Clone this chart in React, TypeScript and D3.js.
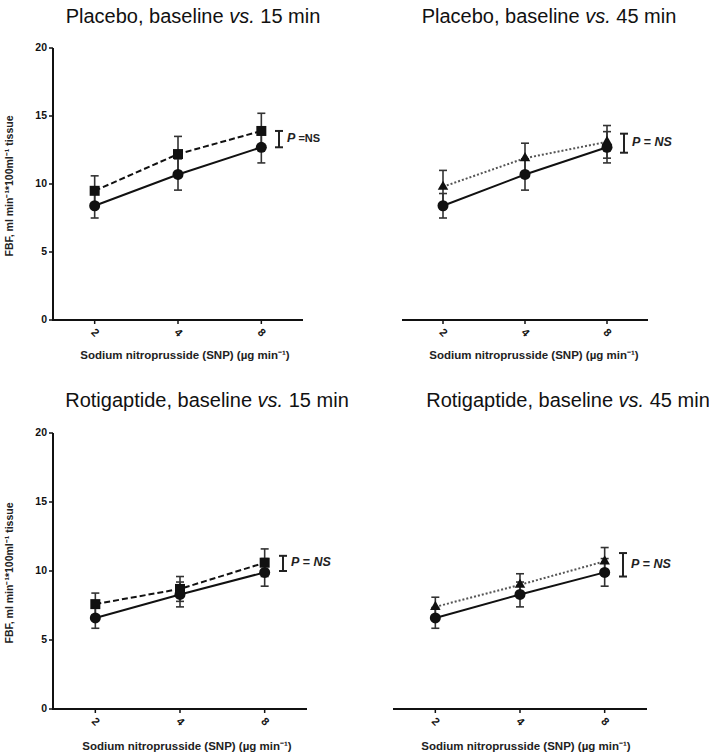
import React from "react";
import * as d3 from "d3";

const doses = ["2", "4", "8"];
const yTicks = [0, 5, 10, 15, 20];

const placeboBaseline = [8.4, 10.7, 12.7];
const placeboBaselineErr = [0.9, 1.15, 1.15];
const placebo15 = [9.5, 12.2, 13.9];
const placebo15Err = [1.1, 1.3, 1.3];
const placebo45 = [9.8, 11.9, 13.1];
const placebo45Err = [1.2, 1.1, 1.2];

const rotiBaseline = [6.6, 8.3, 9.9];
const rotiBaselineErr = [0.75, 0.9, 1.0];
const roti15 = [7.6, 8.7, 10.6];
const roti15Err = [0.8, 0.9, 1.0];
const roti45 = [7.4, 9.0, 10.7];
const roti45Err = [0.7, 0.8, 1.0];

const titles = [
  "Placebo, baseline ",
  "Placebo, baseline ",
  "Rotigaptide, baseline ",
  "Rotigaptide, baseline ",
];
const titleTimes = ["15 min", "45 min", "15 min", "45 min"];
const pBrackets = [
  [12.7, 13.9],
  [12.3, 13.7],
  [10.0, 11.1],
  [9.6, 11.3],
];
const xTitle = "Sodium nitroprusside (SNP) (µg min⁻¹)";

type PanelCfg = {
  x0: number; x1: number; yBottom: number; yTop: number;
  showY: boolean; titleX: number; titleY: number; xTitleX: number; xTitleY: number;
  base: number[]; baseErr: number[]; cmp: number[]; cmpErr: number[];
  marker: "square" | "triangle"; idx: number; pItalicNS: boolean;
};

const panels: PanelCfg[] = [
  { x0: 53, x1: 303, yBottom: 320, yTop: 48, showY: true, titleX: 193, titleY: 23, xTitleX: 185, xTitleY: 359,
    base: placeboBaseline, baseErr: placeboBaselineErr, cmp: placebo15, cmpErr: placebo15Err, marker: "square", idx: 0, pItalicNS: false },
  { x0: 402, x1: 648, yBottom: 320, yTop: 48, showY: false, titleX: 549, titleY: 23, xTitleX: 534, xTitleY: 359,
    base: placeboBaseline, baseErr: placeboBaselineErr, cmp: placebo45, cmpErr: placebo45Err, marker: "triangle", idx: 1, pItalicNS: true },
  { x0: 53, x1: 307, yBottom: 709, yTop: 433, showY: true, titleX: 207, titleY: 407, xTitleX: 187, xTitleY: 750,
    base: rotiBaseline, baseErr: rotiBaselineErr, cmp: roti15, cmpErr: roti15Err, marker: "square", idx: 2, pItalicNS: true },
  { x0: 393, x1: 647, yBottom: 709, yTop: 433, showY: false, titleX: 568, titleY: 407, xTitleX: 526, xTitleY: 750,
    base: rotiBaseline, baseErr: rotiBaselineErr, cmp: roti45, cmpErr: roti45Err, marker: "triangle", idx: 3, pItalicNS: true },
];

const FONT = "Liberation Sans, Arial, Helvetica, sans-serif";

function Panel({ c }: { c: PanelCfg }) {
  const x = d3.scalePoint<string>().domain(doses).range([c.x0, c.x1]).padding(0.5);
  const y = d3.scaleLinear().domain([0, 20]).range([c.yBottom, c.yTop]);
  const line = d3.line<number>().x((_, i) => x(doses[i])!).y((v) => y(v));
  const tri = d3.symbol().type(d3.symbolTriangle).size(48)();
  const cap = 4;
  const errBars = (vals: number[], errs: number[], key: string) =>
    vals.map((v, i) => {
      const cx = x(doses[i])!;
      const hi = y(v + errs[i]);
      const lo = y(v - errs[i]);
      return (
        <g key={key + i} stroke="#333" strokeWidth={1.6}>
          <line x1={cx} x2={cx} y1={hi} y2={lo} />
          <line x1={cx - cap} x2={cx + cap} y1={hi} y2={hi} />
          <line x1={cx - cap} x2={cx + cap} y1={lo} y2={lo} />
        </g>
      );
    });
  const bx = c.x1 - 24;
  const [bLo, bHi] = pBrackets[c.idx];
  const yMid = (y(bLo) + y(bHi)) / 2;
  return (
    <g>
      <text x={c.titleX} y={c.titleY} textAnchor="middle" fontFamily={FONT} fontSize={20} fill="#111">
        {titles[c.idx]}
        <tspan fontStyle="italic">vs.</tspan> {titleTimes[c.idx]}
      </text>
      {/* axes */}
      <line x1={c.x0} x2={c.x1} y1={c.yBottom} y2={c.yBottom} stroke="#111" strokeWidth={2} />
      {doses.map((d) => (
        <g key={d} transform={`translate(${x(d)},${c.yBottom})`}>
          <line y1={0} y2={4} stroke="#111" strokeWidth={1.5} />
          <text transform="translate(0,13) rotate(45)" textAnchor="middle" dominantBaseline="middle"
            fontFamily={FONT} fontSize={11} fontWeight="bold" fill="#111">{d}</text>
        </g>
      ))}
      <text x={c.xTitleX} y={c.xTitleY} textAnchor="middle" fontFamily={FONT} fontSize={11.5} fontWeight="bold" fill="#222">
        {xTitle}
      </text>
      {c.showY && (
        <g>
          <line x1={c.x0} x2={c.x0} y1={c.yBottom + 1} y2={c.yTop} stroke="#111" strokeWidth={2} />
          {yTicks.map((t) => (
            <g key={t} transform={`translate(${c.x0},${y(t)})`}>
              <line x1={-4} x2={0} stroke="#111" strokeWidth={1.5} />
              <text x={-6} textAnchor="end" dominantBaseline="middle" fontFamily={FONT} fontSize={10.5}
                fontWeight="bold" fill="#111">{t}</text>
            </g>
          ))}
          <text transform={`translate(13,${(c.yBottom + c.yTop) / 2 + 2}) rotate(-90)`} textAnchor="middle"
            fontFamily={FONT} fontSize={10.5} fontWeight="bold" fill="#222">
            FBF, ml min⁻¹*100ml⁻¹ tissue
          </text>
        </g>
      )}
      {/* error bars */}
      {errBars(c.cmp, c.cmpErr, "ce")}
      {errBars(c.base, c.baseErr, "be")}
      {/* lines */}
      <path d={line(c.cmp)!} fill="none" stroke={c.marker === "square" ? "#111" : "#555"} strokeWidth={2}
        strokeDasharray={c.marker === "square" ? "6,3" : "2,2"} />
      <path d={line(c.base)!} fill="none" stroke="#111" strokeWidth={2} />
      {/* markers */}
      {c.cmp.map((v, i) =>
        c.marker === "square" ? (
          <rect key={"m" + i} x={x(doses[i])! - 5} y={y(v) - 5} width={10} height={10} fill="#111" />
        ) : (
          <path key={"m" + i} d={tri!} transform={`translate(${x(doses[i])},${y(v)})`} fill="#111" />
        )
      )}
      {c.base.map((v, i) => (
        <circle key={"c" + i} cx={x(doses[i])} cy={y(v)} r={5.5} fill="#111" />
      ))}
      {/* P bracket */}
      <g stroke="#222" strokeWidth={2}>
        <line x1={bx} x2={bx} y1={y(bLo)} y2={y(bHi)} />
        <line x1={bx - 4} x2={bx + 4} y1={y(bLo)} y2={y(bLo)} />
        <line x1={bx - 4} x2={bx + 4} y1={y(bHi)} y2={y(bHi)} />
      </g>
      <text x={bx + 8} y={yMid} dominantBaseline="middle" fontFamily={FONT} fontSize={12.5} fontWeight="bold" fill="#222">
        <tspan fontStyle="italic">P</tspan>
        {c.pItalicNS ? (
          <>
            <tspan> = </tspan>
            <tspan fontStyle="italic">NS</tspan>
          </>
        ) : (
          <tspan fontSize={11}> =NS</tspan>
        )}
      </text>
    </g>
  );
}

export default function App() {
  return (
    <svg width={709} height={756} style={{ position: "absolute", left: 0, top: 0, background: "#fff" }}>
      <rect width={709} height={756} fill="#fff" />
      {panels.map((c) => (
        <Panel key={c.idx} c={c} />
      ))}
    </svg>
  );
}
